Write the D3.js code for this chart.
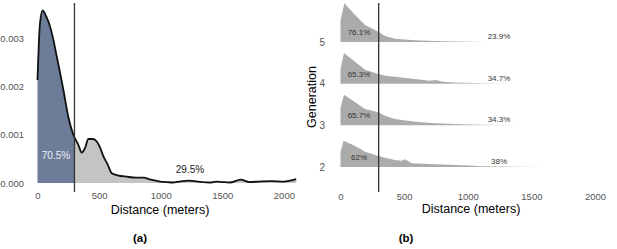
<!DOCTYPE html>
<html lang="en">
<head>
    <meta charset="UTF-8">
    <title>Distance densities</title>
    <script src="https://d3js.org/d3.v7.min.js"></script>
    <style>
        body { margin: 0; background: #fff; font-family: "Liberation Sans", Arial, sans-serif; }
        .tick text { fill: #555; font-size: 9.5px; font-family: "Liberation Sans", Arial, sans-serif; }
    </style>
</head>
<body>
    <div id="chart"></div>
    <script>
        // Panel (a): overall density of distance
        const distA = [0, 20, 42, 70, 102, 130, 156, 183, 210, 250, 297, 330, 359, 385, 413, 450, 481, 510, 535, 570,
                       603, 650, 725, 800, 860, 920, 996, 1050, 1100, 1150, 1230, 1300, 1400, 1450, 1500, 1560, 1650,
                       1720, 1800, 1900, 2000, 2100];
        const densA = [0.00213, 0.0033, 0.00357, 0.00345, 0.00324, 0.00295, 0.00262, 0.00228, 0.00193, 0.00137,
                       0.00096, 0.0008, 0.00063, 0.00072, 0.00091, 0.00091, 0.00086, 0.00072, 0.00055, 0.00038,
                       0.0002, 0.00016, 0.00013, 0.00011, 0.00011, 0.00007, 0.00003, 0.00002, 0.00001, 0.00003,
                       0.00005, 0.00003, 0.00001, 0.00003, 0.00002, 0.00001, 0.00007, 0.00002, 0.00003, 0.00004,
                       0.00003, 0.00008];
        const yTicksA = [0, 0.001, 0.002, 0.003];
        const xTicks = [0, 500, 1000, 1500, 2000];
        const cutoff = 300;
        const pctA = ["70.5%", "29.5%"];

        // Panel (b): densities by generation
        const generations = [5, 4, 3, 2];
        const distB = {
            5: [0, 30, 115, 193, 245, 297, 350, 428, 585, 742, 900, 1050, 1190],
            4: [0, 27, 115, 193, 297, 350, 428, 585, 700, 750, 800, 900, 1100, 1355],
            3: [0, 27, 115, 193, 297, 350, 428, 585, 742, 900, 1150, 1460],
            2: [0, 24, 115, 193, 297, 350, 428, 480, 507, 560, 742, 900, 1100, 1350, 1650]
        };
        const densB = {
            5: [0.00204, 0.00371, 0.00259, 0.00163, 0.00131, 0.00099, 0.00058, 0.00032, 0.00016, 0.0001, 0.00007, 0.00004, 0.00001],
            4: [0.00141, 0.00294, 0.00211, 0.00134, 0.00093, 0.00077, 0.00067, 0.00045, 0.00029, 0.00034, 0.00019, 0.00012, 0.00006, 0.00001],
            3: [0.00166, 0.00294, 0.00221, 0.00156, 0.00125, 0.00093, 0.0006, 0.00035, 0.00019, 0.00012, 0.00006, 0.00001],
            2: [0.00147, 0.00252, 0.00201, 0.00147, 0.00106, 0.00089, 0.00067, 0.0006, 0.00074, 0.00035, 0.00026, 0.00019, 0.0001, 0.00005, 0.00001]
        };
        const pctNear = {5: "76.1%", 4: "65.3%", 3: "65.7%", 2: "62%"};
        const pctFar = {5: "23.9%", 4: "34.7%", 3: "34.3%", 2: "38%"};

        const svg = d3.select("#chart").append("svg")
            .attr("width", 617)
            .attr("height", 249);

        // ---------- panel (a) ----------
        const xA = d3.scaleLinear().domain([0, 2100]).range([37.5, 296.2]);
        const yA = d3.scaleLinear().domain([0, 0.003]).range([183, 38]);
        const ptsA = distA.map((d, i) => ({x: d, y: densA[i]}));

        // interpolated value at the cutoff so the two fills meet
        const interp = x => {
            const i = d3.bisectLeft(distA, x);
            const t = (x - distA[i - 1]) / (distA[i] - distA[i - 1]);
            return densA[i - 1] + t * (densA[i] - densA[i - 1]);
        };
        const cutPt = {x: cutoff, y: interp(cutoff)};
        const near = ptsA.filter(p => p.x < cutoff).concat([cutPt]);
        const far = [cutPt].concat(ptsA.filter(p => p.x > cutoff));

        const areaA = d3.area().x(d => xA(d.x)).y0(yA(0)).y1(d => yA(d.y)).curve(d3.curveMonotoneX);
        const lineA = d3.line().x(d => xA(d.x)).y(d => yA(d.y)).curve(d3.curveMonotoneX);

        svg.append("path").datum(near).attr("d", areaA).attr("fill", "#6c7c99");
        svg.append("path").datum(far).attr("d", areaA).attr("fill", "#c4c4c4");
        svg.append("path").datum(ptsA).attr("d", lineA)
            .attr("fill", "none").attr("stroke", "#111").attr("stroke-width", 1.8);

        svg.append("line")
            .attr("x1", xA(cutoff)).attr("x2", xA(cutoff))
            .attr("y1", 3).attr("y2", 192)
            .attr("stroke", "#333").attr("stroke-width", 1.3);

        const gxA = svg.append("g").attr("transform", "translate(0,192)")
            .call(d3.axisBottom(xA).tickValues(xTicks).tickFormat(d3.format("d")).tickSize(0).tickPadding(0));
        gxA.select(".domain").remove();
        gxA.selectAll("text").attr("dy", "0.71em").attr("y", 0);

        const gyA = svg.append("g").attr("transform", "translate(24,0)")
            .call(d3.axisLeft(yA).tickValues(yTicksA).tickFormat(d3.format(".3f")).tickSize(0).tickPadding(0));
        gyA.select(".domain").remove();

        svg.append("text").attr("x", 56).attr("y", 158.5)
            .attr("text-anchor", "middle").attr("fill", "#eef1f6")
            .style("font-size", "10px").text(pctA[0]);
        svg.append("text").attr("x", 190).attr("y", 172.5)
            .attr("text-anchor", "middle").attr("fill", "#222")
            .style("font-size", "10px").text(pctA[1]);

        svg.append("text").attr("x", 160).attr("y", 214)
            .attr("text-anchor", "middle").style("font-size", "12.5px")
            .text("Distance (meters)");
        svg.append("text").attr("x", 140).attr("y", 242)
            .attr("text-anchor", "middle").style("font-size", "11.5px").style("font-weight", "bold")
            .text("(a)");

        // ---------- panel (b) ----------
        const xB = d3.scaleLinear().domain([0, 2000]).range([340.5, 595]);
        const yB = d3.scaleLinear().domain([2, 5]).range([167, 42]);
        const hB = d3.scaleLinear().domain([0, 0.004]).range([0, 41.7]);

        const grad = svg.append("defs").append("linearGradient").attr("id", "fade");
        grad.append("stop").attr("offset", "0").attr("stop-color", "#ababab").attr("stop-opacity", 1);
        grad.append("stop").attr("offset", "0.6").attr("stop-color", "#ababab").attr("stop-opacity", 1);
        grad.append("stop").attr("offset", "1").attr("stop-color", "#ababab").attr("stop-opacity", 0.15);

        generations.forEach(g => {
            const base = yB(g);
            const pts = distB[g].map((d, i) => ({x: d, y: densB[g][i]}));
            const area = d3.area()
                .x(d => xB(d.x))
                .y0(base)
                .y1(d => base - hB(d.y));
            svg.append("path").datum(pts).attr("d", area).attr("fill", "url(#fade)");

            svg.append("text").attr("x", 359).attr("y", base - 7)
                .attr("text-anchor", "middle").attr("fill", "#333")
                .style("font-size", "8px").text(pctNear[g]);
            svg.append("text").attr("x", 499).attr("y", base - 3)
                .attr("text-anchor", "middle").attr("fill", "#333")
                .style("font-size", "8px").text(pctFar[g]);
        });

        svg.append("line")
            .attr("x1", xB(cutoff)).attr("x2", xB(cutoff))
            .attr("y1", 3).attr("y2", 192)
            .attr("stroke", "#333").attr("stroke-width", 1.3);

        const gxB = svg.append("g").attr("transform", "translate(0,193)")
            .call(d3.axisBottom(xB).tickValues(xTicks).tickFormat(d3.format("d")).tickSize(0).tickPadding(0));
        gxB.select(".domain").remove();
        gxB.selectAll("text").attr("dy", "0.71em").attr("y", 0);

        const gyB = svg.append("g").attr("transform", "translate(325,0)")
            .call(d3.axisLeft(yB).tickValues(generations).tickFormat(d3.format("d")).tickSize(0).tickPadding(0));
        gyB.select(".domain").remove();
        gyB.selectAll("text").style("font-size", "10px");

        svg.append("text")
            .attr("transform", "translate(316,97) rotate(-90)")
            .attr("text-anchor", "middle").style("font-size", "12.5px")
            .text("Generation");

        svg.append("text").attr("x", 471).attr("y", 213)
            .attr("text-anchor", "middle").style("font-size", "12.5px")
            .text("Distance (meters)");
        svg.append("text").attr("x", 406).attr("y", 242)
            .attr("text-anchor", "middle").style("font-size", "11.5px").style("font-weight", "bold")
            .text("(b)");
    </script>
</body>
</html>
